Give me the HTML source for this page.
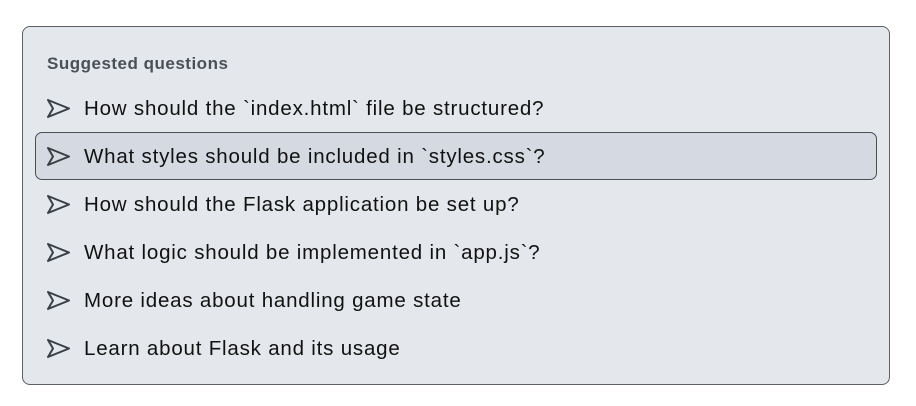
<!DOCTYPE html>
<html><head><style>
body{margin:0;width:916px;height:406px;background:#fff;font-family:"Liberation Sans",Arial,sans-serif;position:relative;overflow:hidden}
.box{position:absolute;left:22px;top:26px;width:866px;height:357px;border:1px solid #5b6067;border-radius:8px;background:#e4e7eb}
.h{position:absolute;left:47px;top:54px;font-size:17px;letter-spacing:0.5px;font-weight:bold;color:#4b5057}
.row{position:absolute;left:0;height:46px;width:916px}
.row svg{position:absolute;left:46px;top:13px}
.row span{position:absolute;left:84px;top:1px;line-height:46px;font-size:20.5px;letter-spacing:0.8px;color:#111}
.hl{position:absolute;left:35px;top:132px;width:840px;height:46px;border:1.5px solid #4a4f56;border-radius:7px;background:#d5dae2}
</style></head><body>
<div class="box"></div>
<div class="h">Suggested questions</div>
<div class="hl"></div>
<div class="row" style="top:85px"><svg width="24" height="22" viewBox="0 0 24 22"><path d="M2 2 L23 10.5 L2 19 L7 10.5 Z" fill="none" stroke="#3a3f45" stroke-width="2" stroke-linejoin="round"/></svg><span>How should the `index.html` file be structured?</span></div>
<div class="row" style="top:133px"><svg width="24" height="22" viewBox="0 0 24 22"><path d="M2 2 L23 10.5 L2 19 L7 10.5 Z" fill="none" stroke="#3a3f45" stroke-width="2" stroke-linejoin="round"/></svg><span>What styles should be included in `styles.css`?</span></div>
<div class="row" style="top:181px"><svg width="24" height="22" viewBox="0 0 24 22"><path d="M2 2 L23 10.5 L2 19 L7 10.5 Z" fill="none" stroke="#3a3f45" stroke-width="2" stroke-linejoin="round"/></svg><span>How should the Flask application be set up?</span></div>
<div class="row" style="top:229px"><svg width="24" height="22" viewBox="0 0 24 22"><path d="M2 2 L23 10.5 L2 19 L7 10.5 Z" fill="none" stroke="#3a3f45" stroke-width="2" stroke-linejoin="round"/></svg><span>What logic should be implemented in `app.js`?</span></div>
<div class="row" style="top:277px"><svg width="24" height="22" viewBox="0 0 24 22"><path d="M2 2 L23 10.5 L2 19 L7 10.5 Z" fill="none" stroke="#3a3f45" stroke-width="2" stroke-linejoin="round"/></svg><span>More ideas about handling game state</span></div>
<div class="row" style="top:325px"><svg width="24" height="22" viewBox="0 0 24 22"><path d="M2 2 L23 10.5 L2 19 L7 10.5 Z" fill="none" stroke="#3a3f45" stroke-width="2" stroke-linejoin="round"/></svg><span>Learn about Flask and its usage</span></div>
</body></html>
